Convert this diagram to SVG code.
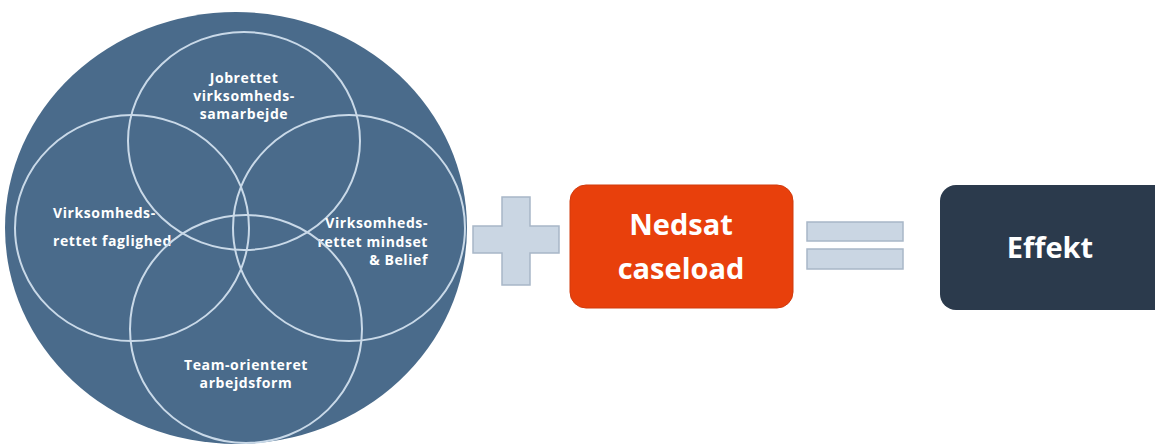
<svg xmlns="http://www.w3.org/2000/svg" width="1155" height="445" viewBox="0 0 1155 445">
  <style>
    .ring { fill: none; stroke: #c9d9e8; stroke-width: 2; }
    .lbl { font-family: "Open Sans", "Liberation Sans", sans-serif; font-weight: bold; font-size: 14px; letter-spacing: 0.6px; fill: #ffffff; }
    .big { font-family: "Open Sans", "Liberation Sans", sans-serif; font-weight: bold; font-size: 29px; fill: #ffffff; text-anchor: middle; }
    .op { fill: #cad6e3; stroke: #a8b7c7; stroke-width: 1.5; }
  </style>
  <rect width="1155" height="445" fill="#ffffff"/>

  <!-- Venn cluster on a large disc -->
  <g id="venn">
    <ellipse cx="236" cy="228" rx="231" ry="216" fill="#4a6b8b"/>
    <g id="jobrettet">
      <ellipse class="ring" cx="244" cy="141" rx="116" ry="109"/>
      <text class="lbl" text-anchor="middle" x="244" y="83">Jobrettet</text>
      <text class="lbl" text-anchor="middle" x="244" y="101">virksomheds-</text>
      <text class="lbl" text-anchor="middle" x="244" y="119">samarbejde</text>
    </g>
    <g id="faglighed">
      <ellipse class="ring" cx="132" cy="228" rx="117" ry="113"/>
      <text class="lbl" x="53" y="218">Virksomheds-</text>
      <text class="lbl" x="53" y="246">rettet faglighed</text>
    </g>
    <g id="mindset">
      <ellipse class="ring" cx="349" cy="228" rx="116" ry="113"/>
      <text class="lbl" text-anchor="end" x="428" y="228">Virksomheds-</text>
      <text class="lbl" text-anchor="end" x="428" y="247">rettet mindset</text>
      <text class="lbl" text-anchor="end" x="428" y="265">&amp;  Belief</text>
    </g>
    <g id="team">
      <ellipse class="ring" cx="246" cy="329" rx="116" ry="114"/>
      <text class="lbl" text-anchor="middle" x="246" y="370">Team-orienteret</text>
      <text class="lbl" text-anchor="middle" x="246" y="388">arbejdsform</text>
    </g>
  </g>

  <!-- plus sign -->
  <g id="plus">
    <path class="op" d="M502,197 H530 V226 H559 V253 H530 V285 H502 V253 H473 V226 H502 Z"/>
  </g>

  <g id="nedsat">
    <rect x="570" y="185" width="223" height="123" rx="16" fill="#e8400c" stroke="#d13a0c" stroke-width="1"/>
    <text class="big" x="681" y="235">Nedsat</text>
    <text class="big" x="681" y="279">caseload</text>
  </g>

  <!-- equals sign -->
  <g id="equals">
    <rect class="op" x="807" y="222" width="96" height="19"/>
    <rect class="op" x="807" y="249" width="96" height="20"/>
  </g>

  <g id="effekt">
    <rect x="940" y="185" width="230" height="125" rx="16" fill="#2b3a4c"/>
    <text class="big" x="1050" y="258">Effekt</text>
  </g>
</svg>
